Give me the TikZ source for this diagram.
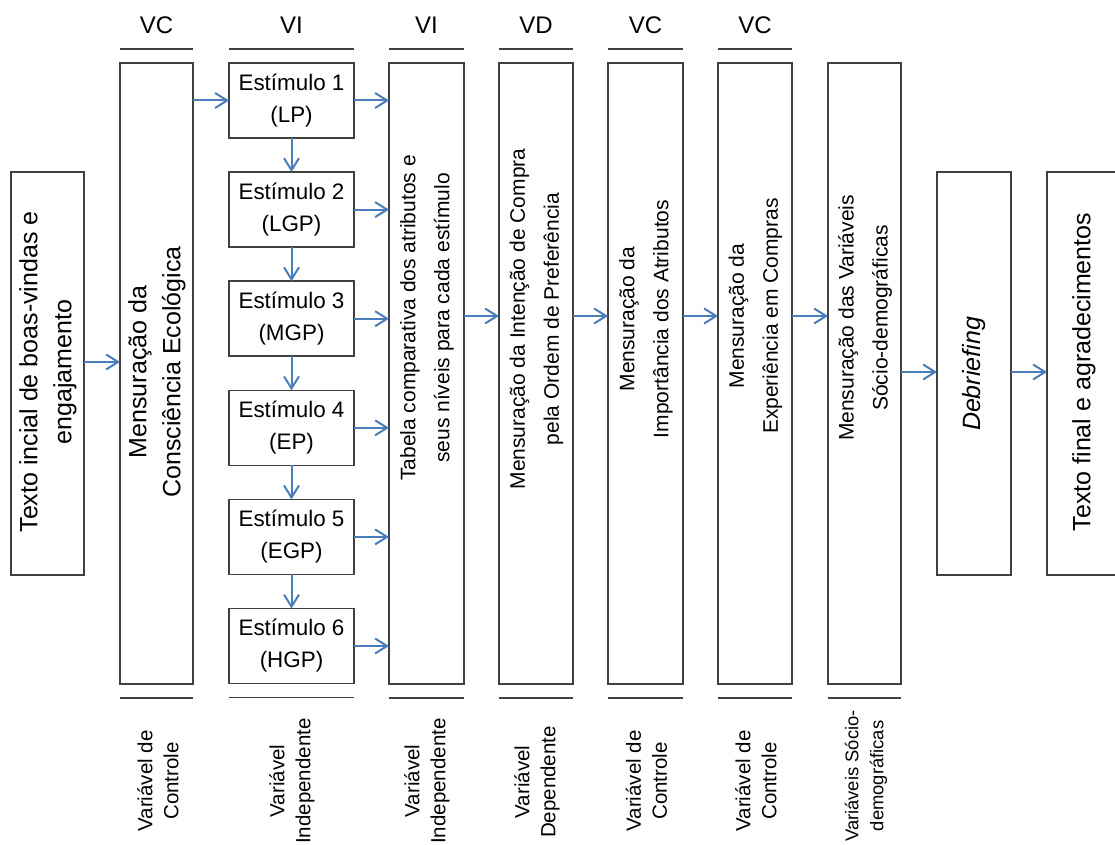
\documentclass[tikz,border=0pt]{standalone}
\usepackage{fontspec}
\setmainfont{Liberation Sans}
\usetikzlibrary{arrows.meta}
\definecolor{arrowblue}{HTML}{4A7EBB}
\definecolor{boxgray}{HTML}{404040}
\begin{document}
\begin{tikzpicture}[x=0.5pt,y=-0.5pt,
  box/.style={draw=boxgray, line width=0.75pt, inner sep=0pt, outer sep=0pt, fill=white},
  tallbox/.style={box, minimum height=310.5pt},
  midbox/.style={box, minimum height=201.5pt},
  stimbox/.style={box, minimum width=62.5pt, minimum height=37.5pt, align=center,
    font=\fontsize{11.2}{16}\selectfont},
  arr/.style={draw=arrowblue, line width=1pt, -{Straight Barb[length=6pt,width=7.5pt]}},
  rulel/.style={draw=boxgray, line width=0.75pt},
  bigtxt/.style={rotate=90, align=center, inner sep=0pt, font=\fontsize{12.5}{17}\selectfont},
  smalltxt/.style={rotate=90, align=center, inner sep=0pt, font=\fontsize{10.5}{17}\selectfont},
  hdr/.style={inner sep=0pt, font=\fontsize{12}{14}\selectfont},
  foot/.style={rotate=90, align=center, inner sep=0pt, font=\fontsize{10.25}{13}\selectfont},
  footsm/.style={rotate=90, align=center, inner sep=0pt, font=\fontsize{9.2}{12.5}\selectfont}
]
\useasboundingbox (0,0) rectangle (1115,845);
\clip (0,0) rectangle (1115,845);

% boxes
\node[midbox, minimum width=36.5pt] (A) at (47.5,373.5) {};
\node[tallbox, minimum width=36.5pt] (B) at (156.5,373.5) {};
\node[stimbox] (S1) at (291.5,100.5) {Estímulo 1\\(LP)};
\node[stimbox] (S2) at (291.5,209.6) {Estímulo 2\\(LGP)};
\node[stimbox] (S3) at (291.5,318.7) {Estímulo 3\\(MGP)};
\node[stimbox] (S4) at (291.5,427.8) {Estímulo 4\\(EP)};
\node[stimbox] (S5) at (291.5,536.9) {Estímulo 5\\(EGP)};
\node[stimbox] (S6) at (291.5,646) {Estímulo 6\\(HGP)};
\node[tallbox, minimum width=37.5pt] (C) at (426.5,373.5) {};
\node[tallbox, minimum width=37pt] (D) at (536,373.5) {};
\node[tallbox, minimum width=37.5pt] (E) at (645.5,373.5) {};
\node[tallbox, minimum width=37pt] (F) at (755,373.5) {};
\node[tallbox, minimum width=36.5pt] (G) at (864.5,373.5) {};
\node[midbox, minimum width=37pt] (H) at (974,373.5) {};
\node[midbox, minimum width=37pt] (I) at (1084,373.5) {};

% box texts
\node[bigtxt] (At) at (48,372) {Texto incial de boas-vindas e\\engajamento};
\node[bigtxt] (Bt) at (157,372) {Mensuração da\\Consciência Ecológica};
\node[smalltxt] (Ct) at (427,318) {Tabela comparativa dos atributos e\\seus níveis para cada estímulo};
\node[smalltxt] (Dt) at (536.5,319) {Mensuração da Intenção de Compra\\pela Ordem de Preferência};
\node[smalltxt] (Et) at (646,319) {Mensuração da\\Importância dos Atributos};
\node[smalltxt] (Ft) at (755.5,316) {Mensuração da\\Experiência em Compras};
\node[smalltxt] (Gt) at (865,318) {Mensuração das Variáveis\\Sócio-demográficas};
\node[bigtxt] (Ht) at (974,374) {\itshape Debriefing};
\node[bigtxt] (It) at (1084,372) {Texto final e agradecimentos};

% connectors
\coordinate (rowA) at (0,362);
\coordinate (rowM) at (0,316);
\coordinate (rowR) at (0,372);
\draw[arr] (A.east |- rowA) -- (B.west |- rowA);
\draw[arr] (S1.west -| B.east) -- (S1.west);
\foreach \s in {S1,S2,S3,S4,S5,S6}{
  \draw[arr] (\s.east) -- (\s.east -| C.west);
}
\draw[arr] (S1.south) -- (S2.north);
\draw[arr] (S2.south) -- (S3.north);
\draw[arr] (S3.south) -- (S4.north);
\draw[arr] (S4.south) -- (S5.north);
\draw[arr] (S5.south) -- (S6.north);
\draw[arr] (C.east |- rowM) -- (D.west |- rowM);
\draw[arr] (D.east |- rowM) -- (E.west |- rowM);
\draw[arr] (E.east |- rowM) -- (F.west |- rowM);
\draw[arr] (F.east |- rowM) -- (G.west |- rowM);
\draw[arr] (G.east |- rowR) -- (H.west |- rowR);
\draw[arr] (H.east |- rowR) -- (I.west |- rowR);

% header rules and labels
\foreach \b in {B,C,D,E,F}{
  \draw[rulel] ([yshift=7pt]\b.north west) -- ([yshift=7pt]\b.north east);
}
\draw[rulel] ([yshift=7pt]S1.north west) -- ([yshift=7pt]S1.north east);
\node[hdr] (hB) at (156.5,25) {VC};
\node[hdr] (hS) at (291.5,25) {VI};
\node[hdr] (hC) at (426.5,25) {VI};
\node[hdr] (hD) at (536,25) {VD};
\node[hdr] (hE) at (645.5,25) {VC};
\node[hdr] (hF) at (755,25) {VC};

% footer rules and labels
\foreach \b in {B,C,D,E,F,G}{
  \draw[rulel] ([yshift=-7pt]\b.south west) -- ([yshift=-7pt]\b.south east);
}
\draw[rulel] ([yshift=-7pt]S6.south west) -- ([yshift=-7pt]S6.south east);
\node[foot] (fB) at (158,781) {Variável de\\Controle};
\node[foot] (fS) at (292,781) {Variável\\Independente};
\node[foot] (fC) at (427,781) {Variável\\Independente};
\node[foot] (fD) at (537,782) {Variável\\Dependente};
\node[foot] (fE) at (646.5,781) {Variável de\\Controle};
\node[foot] (fF) at (756,781) {Variável de\\Controle};
\node[footsm] (fG) at (866,776) {Variáveis Sócio-\\demográficas};
\end{tikzpicture}
\end{document}
